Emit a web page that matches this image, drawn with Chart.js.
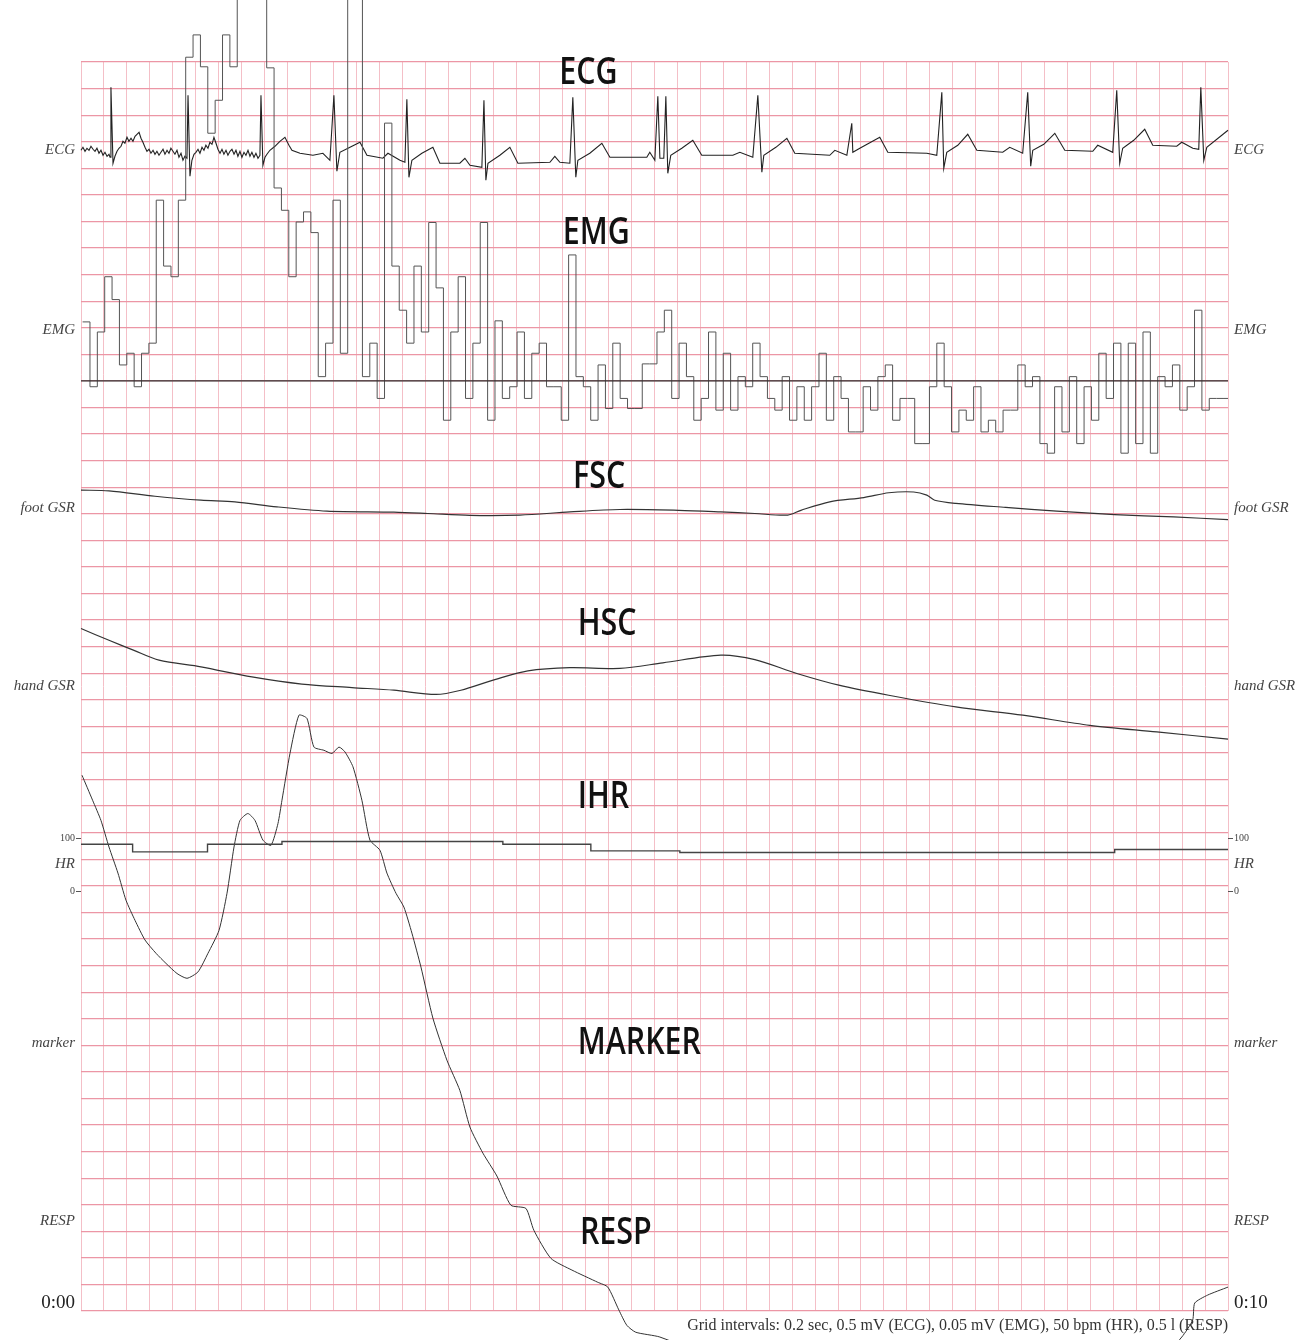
<!DOCTYPE html>
<html>
<head>
<meta charset="utf-8">
<script src="https://cdn.jsdelivr.net/npm/chart.js@4.4.0/dist/chart.umd.min.js"></script>
<style>
  html, body { margin: 0; background: #fff; }
  #wrap { width: 1315px; height: 1340px; position: relative; }
</style>
</head>
<body>
<div id="wrap"><canvas id="myChart"></canvas></div>
<script>
// time is in seconds (0:00 - 0:10), values in each channel's own unit

// ECG [sec, mV]
var ecgPoints = [
  [0.000,0.094],[0.017,0.150],[0.035,0.075],[0.052,0.132],[0.070,0.094],[0.087,0.169],[0.105,0.113],[0.122,0.075],
  [0.139,0.132],[0.157,0.038],[0.174,0.094],[0.192,0.000],[0.209,0.056],[0.227,-0.019],[0.244,0.019],[0.253,-0.038],
  [0.261,1.279],[0.279,-0.150],[0.296,-0.019],[0.314,0.075],[0.331,0.132],[0.349,0.169],[0.366,0.263],[0.383,0.226],
  [0.401,0.339],[0.418,0.263],[0.436,0.320],[0.453,0.263],[0.471,0.357],[0.488,0.395],[0.506,0.433],[0.523,0.320],
  [0.540,0.245],[0.558,0.150],[0.575,0.075],[0.593,0.113],[0.610,0.038],[0.628,0.094],[0.645,0.019],[0.662,0.075],
  [0.680,0.000],[0.697,0.056],[0.715,0.113],[0.732,0.019],[0.750,0.094],[0.767,0.038],[0.784,0.132],[0.802,0.075],
  [0.819,0.019],[0.837,0.094],[0.854,-0.038],[0.872,0.038],[0.889,-0.094],[0.906,-0.019],[0.924,-0.056],[0.933,1.129],
  [0.950,-0.395],[0.967,-0.094],[0.985,0.019],[1.002,0.056],[1.020,0.113],[1.037,0.038],[1.055,0.150],[1.072,0.094],
  [1.089,0.188],[1.107,0.132],[1.124,0.245],[1.142,0.207],[1.159,0.339],[1.177,0.226],[1.194,0.113],[1.212,0.038],
  [1.229,0.113],[1.246,0.019],[1.264,0.094],[1.281,0.000],[1.299,0.075],[1.316,0.113],[1.334,0.019],[1.351,0.094],
  [1.368,-0.019],[1.386,0.075],[1.403,-0.038],[1.421,0.056],[1.438,0.000],[1.456,0.094],[1.473,-0.019],[1.490,0.056],
  [1.508,-0.038],[1.525,0.038],[1.543,-0.056],[1.560,0.000],[1.569,1.129],[1.586,-0.188],[1.604,-0.038],[1.621,0.019],
  [1.647,0.094],[1.691,0.169],[1.734,0.263],[1.778,0.339],[1.813,0.188],[1.839,0.094],[1.909,0.038],[2.022,0.000],
  [2.109,0.038],[2.170,-0.094],[2.205,1.129],[2.231,-0.301],[2.257,0.056],[2.345,0.150],[2.432,0.245],[2.493,0.000],
  [2.632,-0.056],[2.676,0.038],[2.781,-0.094],[2.824,-0.132],[2.841,1.053],[2.859,-0.414],[2.885,-0.094],[2.972,0.038],
  [3.068,0.150],[3.129,-0.150],[3.303,-0.150],[3.347,-0.056],[3.391,-0.188],[3.495,-0.226],[3.513,1.035],[3.530,-0.470],
  [3.548,-0.150],[3.652,0.000],[3.739,0.150],[3.809,-0.150],[4.088,-0.132],[4.131,-0.019],[4.175,-0.132],[4.262,-0.150],
  [4.288,1.091],[4.314,-0.414],[4.332,-0.094],[4.436,0.038],[4.541,0.226],[4.611,-0.038],[4.933,-0.038],[4.959,0.056],
  [5.003,-0.094],[5.029,1.110],[5.047,-0.056],[5.081,-0.056],[5.099,1.110],[5.116,-0.339],[5.142,0.000],[5.238,0.132],
  [5.334,0.282],[5.412,0.000],[5.683,0.000],[5.744,0.056],[5.857,-0.038],[5.901,1.129],[5.936,-0.320],[5.953,0.000],
  [6.058,0.150],[6.154,0.320],[6.223,0.038],[6.528,0.000],[6.572,0.094],[6.677,0.000],[6.720,0.602],[6.729,0.056],
  [6.790,0.132],[6.964,0.339],[7.034,0.056],[7.374,0.038],[7.461,0.000],[7.505,1.185],[7.522,-0.245],[7.548,0.056],
  [7.644,0.188],[7.731,0.395],[7.810,0.094],[8.036,0.056],[8.097,0.150],[8.210,0.038],[8.254,1.185],[8.280,-0.207],
  [8.298,0.094],[8.394,0.207],[8.490,0.414],[8.577,0.094],[8.821,0.075],[8.864,0.188],[8.995,0.056],[9.030,1.222],
  [9.056,-0.150],[9.082,0.132],[9.178,0.282],[9.274,0.489],[9.344,0.188],[9.553,0.169],[9.597,0.245],[9.693,0.132],
  [9.745,0.113],[9.763,1.279],[9.789,-0.094],[9.815,0.150],[10.0,0.470]
];

// EMG, one held value every EMG_DT seconds (mV); 0.8 is off the top of the paper
var EMG_T0 = 0.014, EMG_DT = 0.0642;
var emgMv = [
  0.111,-0.011,0.092,0.196,0.153,0.030,0.052,-0.011,0.052,0.071,
  0.340,0.216,0.196,0.340,0.609,0.651,0.591,0.466,0.528,0.651,
  0.591,0.8,0.8,0.8,0.8,0.589,0.363,0.321,0.196,0.299,
  0.318,0.279,0.008,0.071,0.340,0.052,0.8,0.8,0.008,0.071,
  -0.033,0.485,0.216,0.133,0.071,0.216,0.092,0.298,0.175,-0.074,
  0.092,0.196,-0.033,0.071,0.298,-0.074,0.113,-0.033,-0.011,0.092,
  -0.033,0.052,0.071,-0.011,-0.011,-0.074,0.237,0.008,-0.011,-0.074,
  0.030,-0.052,0.071,-0.033,-0.052,-0.052,0.032,0.032,0.092,0.133,
  -0.033,0.071,0.008,-0.074,-0.033,0.092,-0.055,0.052,-0.055,0.008,
  -0.011,0.071,0.008,-0.033,-0.055,0.008,-0.074,-0.011,-0.074,-0.011,
  0.052,-0.074,0.008,-0.033,-0.096,-0.096,-0.011,-0.055,0.008,0.030,
  -0.074,-0.033,-0.033,-0.118,-0.118,-0.011,0.071,-0.011,-0.096,-0.055,
  -0.074,-0.011,-0.096,-0.074,-0.096,-0.055,-0.055,0.030,-0.011,0.008,
  -0.118,-0.136,-0.011,-0.096,0.008,-0.118,-0.011,-0.074,0.052,-0.033,
  0.071,-0.136,0.071,-0.118,0.092,-0.136,0.008,-0.011,0.030,-0.055,
  -0.011,0.133,-0.055,-0.033,-0.033,-0.033
];

// foot skin conductance [sec, grid divisions]
var footPoints = [
  [0,0.68],[0.244,0.65],[0.645,0.45],[1.046,0.30],[1.342,0.24],[1.708,0.05],[2.144,-0.11],[2.728,-0.15],
  [3.024,-0.20],[3.390,-0.27],[3.826,-0.26],[4.262,-0.14],[4.698,-0.05],[5.212,-0.08],[5.578,-0.14],[5.875,-0.20],
  [6.162,-0.26],[6.276,-0.08],[6.528,0.24],[6.825,0.40],[7.042,0.58],[7.260,0.61],[7.374,0.49],[7.443,0.30],
  [7.627,0.18],[8.062,0.03],[8.507,-0.11],[9.012,-0.24],[9.527,-0.33],[10,-0.43]
];

// hand skin conductance [sec, grid divisions]
var handPoints = [
  [0,2.17],[0.244,1.73],[0.462,1.35],[0.680,0.98],[1.046,0.73],[1.490,0.35],[1.926,0.08],[2.362,-0.05],
  [2.728,-0.15],[3.094,-0.31],[3.312,-0.15],[3.608,0.25],[3.896,0.58],[4.262,0.70],[4.698,0.67],[5.073,0.88],
  [5.578,1.17],[5.875,1.00],[6.241,0.48],[6.607,0.04],[7.042,-0.34],[7.627,-0.78],[8.211,-1.09],[8.795,-1.47],
  [9.379,-1.72],[10,-1.99]
];

// instantaneous heart rate [sec, bpm]
var hrPoints = [[0,88.8],[0.450,74.3],[1.103,88.8],[1.752,94.0],[3.678,88.8],[4.445,76.2],[5.221,73.2],[9.012,78.8],[10,78.8]];

// respiration [sec, litres]
var respPoints = [
  [0.009,8.39],[0.101,7.92],[0.174,7.54],[0.244,7.04],[0.322,6.55],[0.392,6.04],[0.471,5.66],[0.558,5.29],
  [0.654,5.04],[0.741,4.85],[0.837,4.66],[0.924,4.57],[1.020,4.69],[1.107,5.04],[1.203,5.47],[1.273,6.17],
  [1.334,7.04],[1.386,7.54],[1.455,7.67],[1.517,7.54],[1.586,7.17],[1.656,7.07],[1.717,7.48],[1.752,7.92],
  [1.822,8.80],[1.900,9.52],[1.970,9.46],[2.031,8.92],[2.118,8.86],[2.188,8.80],[2.249,8.92],[2.301,8.83],
  [2.371,8.55],[2.449,7.92],[2.519,7.17],[2.606,6.98],[2.667,6.55],[2.746,6.17],[2.815,5.91],[2.885,5.42],
  [2.964,4.78],[3.068,3.82],[3.190,3.03],[3.303,2.46],[3.391,1.77],[3.504,1.28],[3.626,0.85],[3.748,0.30],
  [3.879,0.24],[3.948,-0.17],[4.097,-0.70],[4.280,-0.92],[4.506,-1.15],[4.593,-1.24],[4.689,-1.67],[4.759,-1.96],
  [4.837,-2.09],[5.047,-2.18],[6.3,-3.2],[8.0,-3.4],[9.4,-2.6],[9.597,-2.18],[9.692,-1.86],[9.710,-1.54],
  [9.823,-1.39],[10,-1.24]
];

// side labels (same on both sides, except the end time)
var leftLabels = ['ECG', 'EMG', 'foot GSR', 'hand GSR', '100', 'HR', '0', 'marker', 'RESP', '0:00'];
var rightLabels = ['ECG', 'EMG', 'foot GSR', 'hand GSR', '100', 'HR', '0', 'marker', 'RESP', '0:10'];
var titles = ['ECG', 'EMG', 'FSC', 'HSC', 'IHR', 'MARKER', 'RESP'];
var footNote = 'Grid intervals: 0.2 sec, 0.5 mV (ECG), 0.05 mV (EMG), 50 bpm (HR), 0.5 l (RESP)';

// ---- layout (grid rows counted from the top) ----
var ROWS = 47;
var ROW_PINK = '#ec96a5', COL_PINK = '#f4bfc7';
var labelRows = [3.32, 10.09, 16.79, 23.49, 29.21, 30.18, 31.21, 36.92, 43.62, 46.70];
var titleSpots = [[4.17, 0.43], [4.20, 6.44], [4.29, 15.62], [4.33, 21.16], [4.33, 27.66], [4.33, 36.92], [4.35, 44.07]];
var channels = {
  ecg:  { zeroRow: 3.51,  perDiv: 0.5 },
  emg:  { zeroRow: 12.0,  perDiv: 0.05 },
  foot: { zeroRow: 16.79, perDiv: 1 },
  hand: { zeroRow: 23.49, perDiv: 1 },
  hr:   { zeroRow: 31.21, perDiv: 50 },
  resp: { zeroRow: 43.62, perDiv: 0.5 }
};

Chart.defaults.borderColor = ROW_PINK;

function channelAxis(c) {
  return { type: 'linear', axis: 'y', position: 'left', display: false,
           grid: { display: false },
           min: -(ROWS - c.zeroRow) * c.perDiv, max: c.zeroRow * c.perDiv };
}
function toXY(list) {
  return list.map(function (p) { return { x: p[0], y: p[1] }; });
}
var emgData = emgMv.map(function (v, i) { return { x: EMG_T0 + i * EMG_DT, y: v }; });
emgData.push({ x: 10, y: emgMv[emgMv.length - 1] });

function labelFont(i) {
  if (i === 4 || i === 6) return { family: '"Liberation Serif", serif', size: 10 };
  if (i === 9) return { family: '"Liberation Serif", serif', size: 19 };
  return { family: '"Liberation Serif", serif', size: 15, style: 'italic' };
}
function labelAxis(pos, texts, w) {
  return {
    type: 'linear', axis: 'y', position: pos, min: 0, max: ROWS, reverse: true,
    afterBuildTicks: function (s) { s.ticks = labelRows.map(function (r) { return { value: r }; }); },
    afterFit: function (s) { s.width = w; },
    border: { display: false },
    grid: {
      drawOnChartArea: false, tickLength: 5, lineWidth: 1,
      tickColor: function (c) { return (c.index === 4 || c.index === 6) ? '#555' : 'rgba(0,0,0,0)'; }
    },
    ticks: {
      autoSkip: false, padding: 1,
      callback: function (v, i) { return texts[i]; },
      font: function (c) { return labelFont(c.index); },
      color: function (c) { return c.index === 9 ? '#222' : '#444'; }
    }
  };
}

var textPlugin = {
  id: 'traceText',
  afterDraw: function (chart) {
    var ctx = chart.ctx, xs = chart.scales.x, gs = chart.scales.y;
    ctx.save();
    ctx.fillStyle = '#111';
    ctx.textBaseline = 'middle';
    ctx.font = '600 38px "Open Sans", "Noto Sans", sans-serif';
    titles.forEach(function (t, i) {
      var px = xs.getPixelForValue(titleSpots[i][0]), py = gs.getPixelForValue(titleSpots[i][1]);
      ctx.save();
      ctx.translate(px, py);
      ctx.scale(0.8, 1);
      ctx.fillText(t, 0, 0);
      ctx.restore();
    });
    ctx.font = '16px "Liberation Serif", serif';
    ctx.fillStyle = '#333';
    ctx.textAlign = 'right';
    ctx.fillText(footNote, xs.getPixelForValue(10), gs.getPixelForValue(47.57));
    ctx.restore();
  }
};

function trace(data, axis, color, width, stepped, tension) {
  return {
    data: data, yAxisID: axis, borderColor: color, borderWidth: width,
    pointRadius: 0, fill: false, tension: tension || 0, stepped: !!stepped, clip: false
  };
}

var ctx = document.getElementById('myChart');
var myChart = new Chart(ctx, {
  type: 'line',
  data: {
    datasets: [
      trace([{ x: 0, y: 0 }, { x: 10, y: 0 }], 'emg', '#333', 1.3),
      trace(toXY(footPoints), 'foot', '#333', 1.2, false, 0.3),
      trace(toXY(handPoints), 'hand', '#333', 1.2, false, 0.3),
      trace(toXY(hrPoints), 'hr', '#444', 1.4, true),
      trace(emgData, 'emg', '#555', 1, true),
      trace(toXY(respPoints), 'resp', '#333', 1, false, 0.2),
      trace(toXY(ecgPoints), 'ecg', '#222', 1.1)
    ]
  },
  options: {
    responsive: true,
    maintainAspectRatio: false,
    animation: false,
    parsing: false,
    layout: { padding: { top: 62, bottom: 29, left: 0, right: 0 } },
    plugins: { legend: { display: false }, tooltip: { enabled: false } },
    scales: {
      x: {
        type: 'linear', position: 'bottom', min: 0, max: 10,
        afterFit: function (s) { s.height = 0; },
        border: { display: false },
        grid: { color: COL_PINK, lineWidth: 1, drawTicks: false },
        ticks: { display: false, stepSize: 0.2, autoSkip: false }
      },
      y: {
        type: 'linear', position: 'left', min: 0, max: ROWS, reverse: true,
        afterFit: function (s) { s.width = 0; },
        border: { display: false },
        grid: { color: ROW_PINK, lineWidth: 1.2, drawTicks: false },
        ticks: { display: false, stepSize: 1, autoSkip: false }
      },
      labL: labelAxis('left', leftLabels, 81),
      labR: labelAxis('right', rightLabels, 87),
      ecg: channelAxis(channels.ecg),
      emg: channelAxis(channels.emg),
      foot: channelAxis(channels.foot),
      hand: channelAxis(channels.hand),
      hr: channelAxis(channels.hr),
      resp: channelAxis(channels.resp)
    }
  },
  plugins: [textPlugin]
});
</script>
</body>
</html>
